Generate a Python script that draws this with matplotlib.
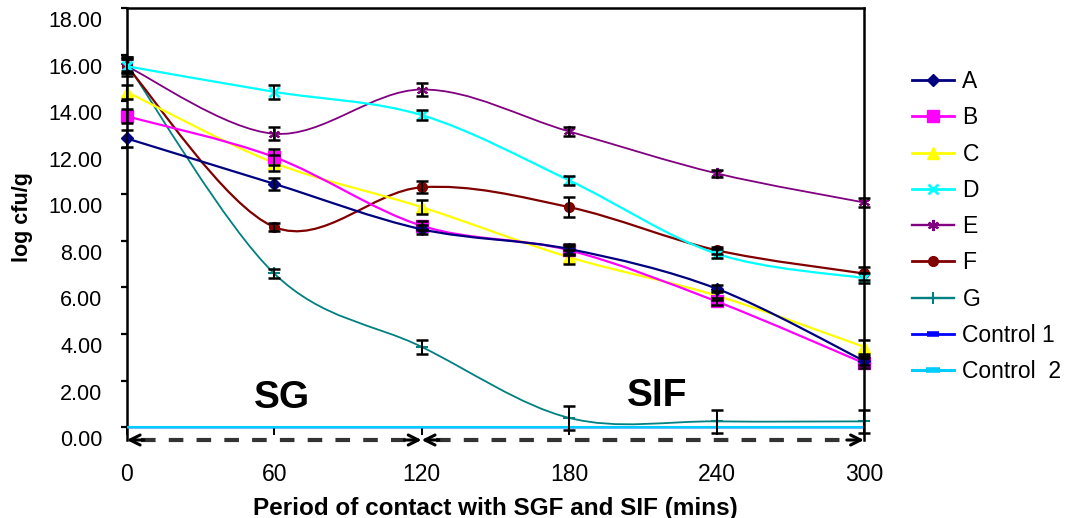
import numpy as np
import matplotlib
matplotlib.use("Agg")
import matplotlib.pyplot as plt
from matplotlib.path import Path
from matplotlib.patches import PathPatch
from matplotlib.lines import Line2D
import matplotlib.transforms as mtransforms

plt.rcParams['font.family'] = ['Liberation Sans', 'DejaVu Sans']
plt.rcParams['lines.scale_dashes'] = False

# ---------------- data ----------------
time_min = [0, 60, 120, 180, 240, 300]
labels = ["A", "B", "C", "D", "E", "F", "G", "Control 1", "Control  2"]

A = [12.40, 10.45, 8.50, 7.65, 5.95, 2.85]
B = [13.35, 11.60, 8.65, 7.60, 5.40, 2.75]
C = [14.40, 11.35, 9.45, 7.30, 5.65, 3.45]
D = [15.50, 14.40, 13.40, 10.60, 7.45, 6.40]
E = [15.50, 12.60, 14.50, 12.70, 10.90, 9.65]
F = [15.50, 8.60, 10.30, 9.45, 7.60, 6.60]
G = [15.60, 6.60, 3.45, 0.40, 0.25, 0.25]
control_1 = [0, 0, 0, 0, 0, 0]
control_2 = [0, 0, 0, 0, 0, 0]

A_err = [0.35, 0.25, 0.20, 0.20, 0.15, 0.20]
B_err = [0.30, 0.35, 0.20, 0.20, 0.15, 0.20]
C_err = [0.30, 0.35, 0.30, 0.30, 0.20, 0.30]
D_err = [0.30, 0.30, 0.23, 0.20, 0.20, 0.20]
E_err = [0.30, 0.27, 0.30, 0.20, 0.15, 0.20]
F_err = [0.40, 0.18, 0.25, 0.43, 0.15, 0.30]
G_err = [0.30, 0.20, 0.30, 0.50, 0.50, 0.50]

series = [A, B, C, D, E, F, G, control_1, control_2]
errors = [A_err, B_err, C_err, D_err, E_err, F_err, G_err, None, None]

colors = ["#000080", "#FF00FF", "#FFFF00", "#00FFFF", "#800080",
          "#800000", "#008080", "#0000FF", "#00CCFF"]
markers = ["D", "s", "^", "x", (6, 2, 0), "o", "+", "_", "_"]
msizes = [6, 8, 8, 7, 8, 7, 8, 8, 10]
mews = [1, 1, 1, 2, 1.5, 1, 1.5, 4, 4]
lws = [1.6, 1.6, 1.6, 1.6, 1.3, 1.6, 1.3, 1.6, 1.8]
is_control = [False] * 7 + [True, True]


def smooth_path(xs, ys):
    pts = np.column_stack([xs, ys]).astype(float)
    n = len(pts)
    verts = [pts[0]]
    codes = [Path.MOVETO]
    for i in range(n - 1):
        p0 = pts[i - 1] if i > 0 else pts[i]
        p1 = pts[i]
        p2 = pts[i + 1]
        p3 = pts[i + 2] if i + 2 < n else pts[i + 1]
        verts += [p1 + (p2 - p0) / 6.0, p2 - (p3 - p1) / 6.0, p2]
        codes += [Path.CURVE4] * 3
    return Path(verts, codes)


fig = plt.figure(figsize=(10.7, 5.18), dpi=100)
ax = fig.add_axes([126.7 / 1070, (518 - 440) / 518, (864 - 126.7) / 1070, 432 / 518])
ax.set_xlim(0, 300)
ax.set_ylim(-0.55, 18)

order = [6, 5, 4, 2, 1, 0, 3, 7, 8]
for k, i in enumerate(order):
    ys = series[i]
    z = 2 + k * 0.1
    ax.add_patch(PathPatch(smooth_path(time_min, ys), fill=False,
                           edgecolor=colors[i], lw=lws[i], zorder=z,
                           capstyle='butt'))
    if not is_control[i]:
        ax.plot(time_min, ys, ls='none', marker=markers[i], ms=msizes[i],
                mew=mews[i], color=colors[i], zorder=z + 0.05, clip_on=False)
    if errors[i] is not None:
        ax.errorbar(time_min, ys, yerr=errors[i], fmt='none', ecolor='black',
                    elinewidth=1.4, capsize=4.5, capthick=1.8, zorder=4,
                    clip_on=False)

# spines / ticks
for s in ['left', 'right', 'top']:
    ax.spines[s].set_linewidth(1.8)
ax.spines['bottom'].set_position(('data', 0))
ax.spines['bottom'].set_visible(False)

ax.set_xticks(time_min)
ax.set_xticklabels([str(t) for t in time_min])
ax.set_yticks(np.arange(0, 19, 2))
ax.set_yticklabels([f"{v:.2f}" for v in np.arange(0, 19, 2)])
ax.tick_params(axis='y', direction='out', length=4.5, width=1.6,
               labelsize=15.5, pad=13, right=False)
ax.tick_params(axis='x', direction='out', length=6, width=1.4,
               labelsize=16.5, pad=20, top=False)
off = mtransforms.ScaledTranslation(0, -0.11, fig.dpi_scale_trans)
for lab in ax.get_yticklabels():
    lab.set_transform(lab.get_transform() + off)

ax.set_xlabel("Period of contact with SGF and SIF (mins)", fontsize=17.5,
              fontweight='bold')
ax.xaxis.set_label_coords(0.5, (440 - 497) / 432)
ax.set_ylabel("log cfu/g", fontsize=15.5, fontweight='bold')
ax.yaxis.set_label_coords((33 - 126.7) / 737.3, (440 - 217) / 432)

# phase annotations
ax.text(63, 1.27, "SG", fontsize=28, fontweight='bold', ha='center', va='center')
ax.text(216, 1.36, "SIF", fontsize=28, fontweight='bold', ha='center', va='center')

y_arrow = -0.55
for x0, x1 in [(0, 120), (120, 300)]:
    ax.plot([x0 + 6, x1 - 6], [y_arrow, y_arrow], color='#333333', lw=3,
            dashes=(10.5, 9.5), clip_on=False, zorder=5, solid_capstyle='butt')
    for tip, tail in [(x0, x0 + 7), (x1, x1 - 7)]:
        ax.annotate("", xy=(tip, y_arrow), xytext=(tail, y_arrow),
                    arrowprops=dict(arrowstyle='->', color='black', lw=2.2,
                                    mutation_scale=18, shrinkA=0, shrinkB=0),
                    annotation_clip=False, zorder=6)

handles = [Line2D([], [], color=colors[i], lw=lws[i] + 0.4, marker=markers[i],
                  ms=msizes[i], mew=mews[i]) for i in range(len(labels))]
fig.legend(handles, labels, loc='upper left',
           bbox_to_anchor=(912 / 1070, 1 - 70 / 518), frameon=False,
           fontsize=16.5, handlelength=1.85, handletextpad=0.35,
           labelspacing=0.58, borderpad=0, borderaxespad=0)

fig.savefig("out.png", dpi=100)
